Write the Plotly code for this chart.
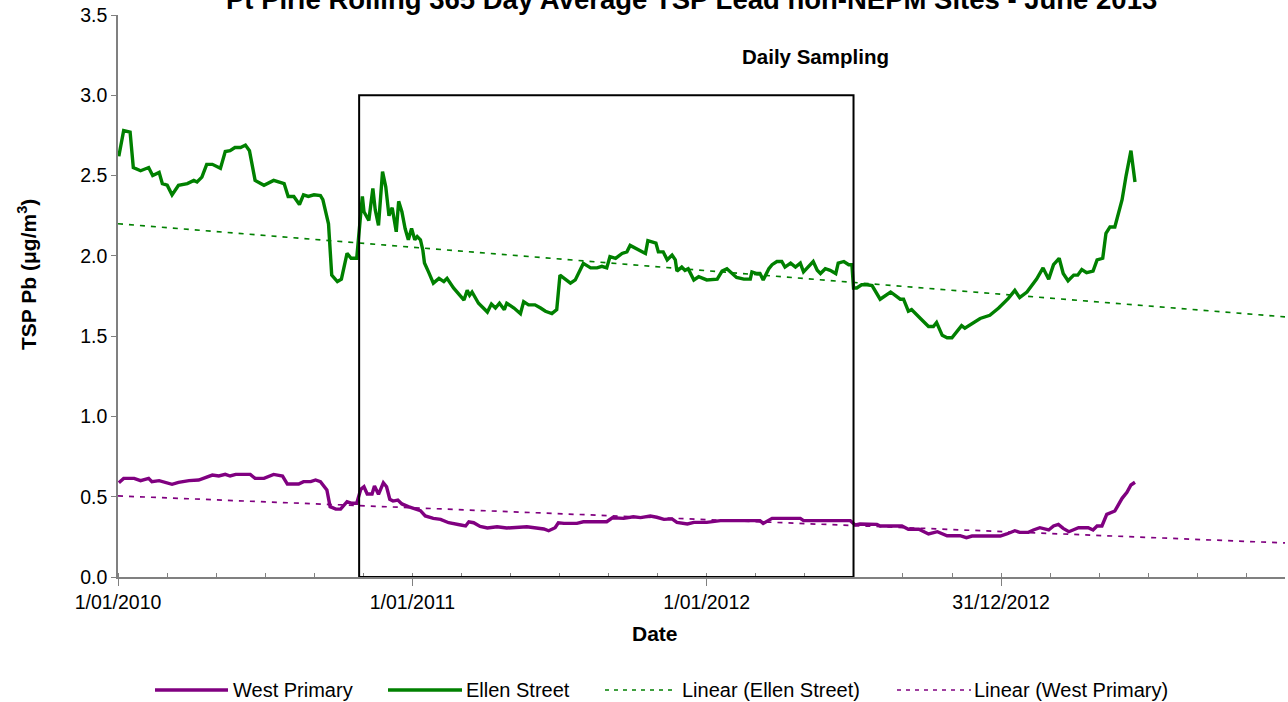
import pandas as pd
import plotly.graph_objects as go

# ---------------- data ----------------
base_date = "2010-01-01"

ellen_days = [1, 7, 15, 19, 28, 38, 43, 51, 55, 61, 67, 75, 86, 94, 98, 104, 110, 117, 127, 133,
              139, 145, 152, 158, 163, 170, 181, 193, 206, 211, 218, 225, 230, 236, 243, 251, 254, 261, 265, 272,
              277, 284, 289, 296, 301, 303, 305, 311, 316, 319, 323, 328, 332, 336, 340, 345, 348, 352, 356, 360,
              364, 368, 371, 375, 378, 380, 385, 391, 398, 404, 408, 416, 429, 433, 436, 439, 447, 458, 463, 468,
              473, 479, 482, 491, 499, 503, 509, 517, 524, 530, 538, 544, 548, 553, 557, 561, 567, 573, 577, 586,
              594, 600, 606, 610, 617, 625, 631, 635, 641, 648, 654, 657, 663, 667, 670, 676, 681, 687, 691, 693,
              699, 703, 707, 714, 720, 726, 730, 743, 749, 755, 759, 767, 776, 784, 786, 792, 796, 800, 807, 811,
              817, 823, 827, 834, 840, 846, 850, 856, 862, 867, 871, 877, 883, 890, 893, 900, 906, 910, 912, 916,
              922, 929, 935, 945, 958, 970, 974, 980, 984, 995, 1005, 1011, 1015, 1022, 1028, 1034, 1038, 1046, 1050, 1061,
              1069, 1081, 1092, 1104, 1112, 1118, 1127, 1139, 1147, 1154, 1160, 1167, 1172, 1178, 1185, 1190, 1195, 1201, 1209, 1214,
              1221, 1225, 1230, 1236, 1245, 1250, 1256, 1261]
ellen_vals = [2.62, 2.78, 2.77, 2.55, 2.53, 2.55, 2.50, 2.52, 2.45, 2.44, 2.38, 2.44, 2.45, 2.47, 2.46, 2.49, 2.57, 2.57, 2.545, 2.65,
              2.655, 2.675, 2.675, 2.69, 2.655, 2.47, 2.44, 2.47, 2.45, 2.37, 2.37, 2.32, 2.38, 2.37, 2.38, 2.375, 2.35, 2.20, 1.88, 1.84,
              1.855, 2.015, 1.985, 1.985, 2.265, 2.37, 2.275, 2.22, 2.42, 2.285, 2.19, 2.525, 2.43, 2.25, 2.30, 2.15, 2.34, 2.275, 2.17, 2.10,
              2.17, 2.10, 2.12, 2.10, 2.035, 1.955, 1.90, 1.83, 1.86, 1.84, 1.86, 1.80, 1.725, 1.785, 1.755, 1.775, 1.705, 1.65, 1.70, 1.675,
              1.705, 1.665, 1.705, 1.675, 1.64, 1.715, 1.695, 1.695, 1.675, 1.655, 1.64, 1.665, 1.88, 1.86, 1.84, 1.83, 1.85, 1.915, 1.953, 1.925,
              1.925, 1.935, 1.925, 1.995, 1.985, 2.015, 2.025, 2.065, 2.05, 2.035, 2.015, 2.095, 2.085, 2.08, 2.025, 2.025, 1.975, 2.005, 1.975, 1.905,
              1.93, 1.91, 1.92, 1.85, 1.87, 1.86, 1.85, 1.855, 1.905, 1.92, 1.90, 1.865, 1.855, 1.855, 1.90, 1.89, 1.89, 1.85, 1.92, 1.945,
              1.965, 1.965, 1.93, 1.955, 1.93, 1.955, 1.90, 1.93, 1.965, 1.91, 1.89, 1.92, 1.91, 1.89, 1.955, 1.965, 1.945, 1.945, 1.80, 1.80,
              1.82, 1.82, 1.815, 1.73, 1.775, 1.73, 1.73, 1.655, 1.665, 1.61, 1.56, 1.56, 1.585, 1.505, 1.49, 1.49, 1.515, 1.565, 1.55, 1.585,
              1.61, 1.63, 1.675, 1.735, 1.785, 1.74, 1.775, 1.855, 1.925, 1.855, 1.945, 1.985, 1.89, 1.845, 1.88, 1.88, 1.915, 1.895, 1.905, 1.975,
              1.985, 2.14, 2.18, 2.18, 2.35, 2.50, 2.655, 2.46]

west_days = [1, 7, 20, 28, 38, 42, 51, 59, 67, 75, 88, 100, 108, 117, 125, 133, 139, 146, 164, 170,
             181, 193, 204, 210, 224, 230, 239, 245, 251, 259, 263, 270, 276, 284, 290, 296, 301, 305, 309, 315,
             318, 323, 329, 333, 337, 341, 347, 352, 360, 369, 375, 381, 391, 400, 410, 425, 431, 435, 441, 449,
             458, 470, 482, 507, 528, 534, 542, 546, 553, 569, 577, 606, 613, 627, 639, 648, 660, 668, 677, 687,
             693, 706, 714, 730, 747, 796, 800, 811, 846, 850, 908, 914, 920, 941, 945, 972, 980, 993, 1005, 1016,
             1028, 1044, 1052, 1059, 1094, 1102, 1112, 1118, 1129, 1135, 1143, 1154, 1160, 1166, 1172, 1179, 1191, 1203, 1209, 1214,
             1220, 1226, 1236, 1245, 1251, 1256, 1261]
west_vals = [0.587, 0.614, 0.614, 0.60, 0.614, 0.594, 0.60, 0.587, 0.577, 0.589, 0.60, 0.604, 0.618, 0.635, 0.629, 0.639, 0.629, 0.639, 0.639, 0.614,
             0.614, 0.639, 0.629, 0.579, 0.579, 0.594, 0.594, 0.604, 0.594, 0.542, 0.438, 0.423, 0.423, 0.469, 0.459, 0.459, 0.546, 0.562, 0.517, 0.517,
             0.567, 0.515, 0.587, 0.562, 0.484, 0.473, 0.479, 0.455, 0.438, 0.422, 0.413, 0.380, 0.365, 0.359, 0.338, 0.324, 0.318, 0.344, 0.338, 0.315,
             0.305, 0.313, 0.305, 0.313, 0.299, 0.288, 0.307, 0.338, 0.334, 0.334, 0.344, 0.344, 0.369, 0.365, 0.375, 0.370, 0.380, 0.372, 0.359, 0.362,
             0.340, 0.330, 0.340, 0.340, 0.351, 0.351, 0.334, 0.365, 0.365, 0.351, 0.351, 0.324, 0.330, 0.328, 0.318, 0.318, 0.297, 0.297, 0.268, 0.282,
             0.257, 0.257, 0.245, 0.255, 0.255, 0.268, 0.288, 0.278, 0.278, 0.293, 0.307, 0.293, 0.318, 0.328, 0.303, 0.282, 0.307, 0.307, 0.293, 0.318,
             0.318, 0.390, 0.411, 0.490, 0.527, 0.573, 0.590]

trend_dates = ["2010-01-01", "2013-12-18"]
ellen_trend = [2.20, 1.62]
west_trend = [0.505, 0.212]

x_tick_dates = ["2010-01-01", "2011-01-01", "2012-01-01", "2012-12-31"]
x_tick_labels = ["1/01/2010", "1/01/2011", "1/01/2012", "31/12/2012"]
x_range = ["2010-01-01", "2013-12-18"]
y_ticks = [0.0, 0.5, 1.0, 1.5, 2.0, 2.5, 3.0, 3.5]

sampling_box_dates = ["2010-10-27", "2012-07-01"]
sampling_box_top = 3.0

series_names = ["West Primary", "Ellen Street", "Linear (Ellen Street)", "Linear (West Primary)"]
title_text = "Pt Pirie Rolling 365 Day Average TSP Lead non-NEPM Sites - June 2013"

# ---------------- styling ----------------
GREEN = "#008000"
PURPLE = "#800080"
AXIS_GREY = "#808080"
FONT = "Liberation Sans, Arial, sans-serif"

W, H = 1288, 702
L, T = 118, 15               # plot area top-left: (118, 15)
R = W - 1285                 # plot right edge: 1285
B = H - 577                  # plot bottom: 577
PW, PH = W - L - R, H - T - B


def px_x(sx):
    """pixel x -> paper coordinate"""
    return (sx - L) / PW


def px_y(sy):
    """pixel y -> paper coordinate"""
    return (H - B - sy) / PH


base = pd.Timestamp(base_date)
ellen_dates = base + pd.to_timedelta(ellen_days, unit="D")
west_dates = base + pd.to_timedelta(west_days, unit="D")

fig = go.Figure()

fig.add_trace(go.Scatter(x=west_dates, y=west_vals, mode="lines", name=series_names[0],
                         line=dict(color=PURPLE, width=3.4), showlegend=False))
fig.add_trace(go.Scatter(x=ellen_dates, y=ellen_vals, mode="lines", name=series_names[1],
                         line=dict(color=GREEN, width=3.4), showlegend=False))
fig.add_trace(go.Scatter(x=trend_dates, y=ellen_trend, mode="lines", name=series_names[2],
                         line=dict(color=GREEN, width=1.7, dash="5px,6px"), showlegend=False))
fig.add_trace(go.Scatter(x=trend_dates, y=west_trend, mode="lines", name=series_names[3],
                         line=dict(color=PURPLE, width=1.7, dash="5px,6px"), showlegend=False))

# sampling box
fig.add_shape(type="rect", xref="x", yref="y",
              x0=sampling_box_dates[0], x1=sampling_box_dates[1], y0=0, y1=sampling_box_top,
              line=dict(color="black", width=2), fillcolor="rgba(0,0,0,0)")

annotations = [
    dict(text="<b>" + title_text + "</b>", x=px_x(691), y=px_y(-1), xref="paper", yref="paper",
         xanchor="center", yanchor="middle", showarrow=False, font=dict(family=FONT, size=27.5, color="black")),
    dict(text="<b>Daily Sampling</b>", x=px_x(815), y=px_y(57), xref="paper", yref="paper",
         xanchor="center", yanchor="middle", showarrow=False, font=dict(family=FONT, size=20.5, color="black")),
    dict(text="<b>TSP Pb (μg/m<sup>3</sup>)</b>", x=px_x(27), y=px_y(275), xref="paper", yref="paper",
         xanchor="center", yanchor="middle", textangle=-90, showarrow=False,
         font=dict(family=FONT, size=21, color="black")),
    dict(text="<b>Date</b>", x=px_x(655), y=px_y(633), xref="paper", yref="paper",
         xanchor="center", yanchor="middle", showarrow=False, font=dict(family=FONT, size=21, color="black")),
]

# legend (drawn below the plot like the original)
legend_items = [
    (series_names[0], PURPLE, "solid", 155, 228, 231),
    (series_names[1], GREEN, "solid", 388, 462, 464),
    (series_names[2], GREEN, "dot", 605, 676, 680),
    (series_names[3], PURPLE, "dot", 897, 971, 972),
]
leg_y = px_y(690)
for name, color, style, x0, x1, tx in legend_items:
    fig.add_shape(type="line", xref="paper", yref="paper", x0=px_x(x0), x1=px_x(x1), y0=leg_y, y1=leg_y,
                  line=dict(color=color, width=3.4 if style == "solid" else 1.7,
                            dash="solid" if style == "solid" else "4px,5px"))
    annotations.append(dict(text=name, x=px_x(tx), y=leg_y, xref="paper", yref="paper",
                            xanchor="left", yanchor="middle", showarrow=False,
                            font=dict(family=FONT, size=20, color="black")))

fig.update_layout(
    width=W, height=H,
    margin=dict(l=L, r=R, t=T, b=B, pad=0, autoexpand=False),
    paper_bgcolor="white", plot_bgcolor="white",
    font=dict(family=FONT, size=19, color="black"),
    annotations=annotations,
    showlegend=False,
)

fig.update_xaxes(
    type="date", range=x_range, automargin=False,
    tickmode="array", tickvals=x_tick_dates, ticktext=x_tick_labels,
    ticks="outside", ticklen=7, tickwidth=1.3, tickcolor=AXIS_GREY,
    showline=True, linecolor=AXIS_GREY, linewidth=1.5,
    showgrid=False, zeroline=False, ticklabeloverflow="allow",
    tickfont=dict(family=FONT, size=19.5, color="black"),
    minor=dict(tick0=base_date, dtick=365 / 6 * 86400000, ticks="inside", ticklen=4,
               tickwidth=1.3, tickcolor=AXIS_GREY, showgrid=False),
)
fig.update_yaxes(
    range=[0, 3.5], tickmode="array", tickvals=y_ticks, tickformat=".1f", automargin=False,
    ticks="outside", ticklen=5, tickwidth=1.3, tickcolor=AXIS_GREY,
    showline=True, linecolor=AXIS_GREY, linewidth=1.5,
    showgrid=False, zeroline=False, ticklabeloverflow="allow",
    tickfont=dict(family=FONT, size=19.5, color="black"),
)

fig.write_html("out.html",
               config={"displayModeBar": False},
               post_script="document.body.style.margin='0';document.body.style.overflow='hidden';")
